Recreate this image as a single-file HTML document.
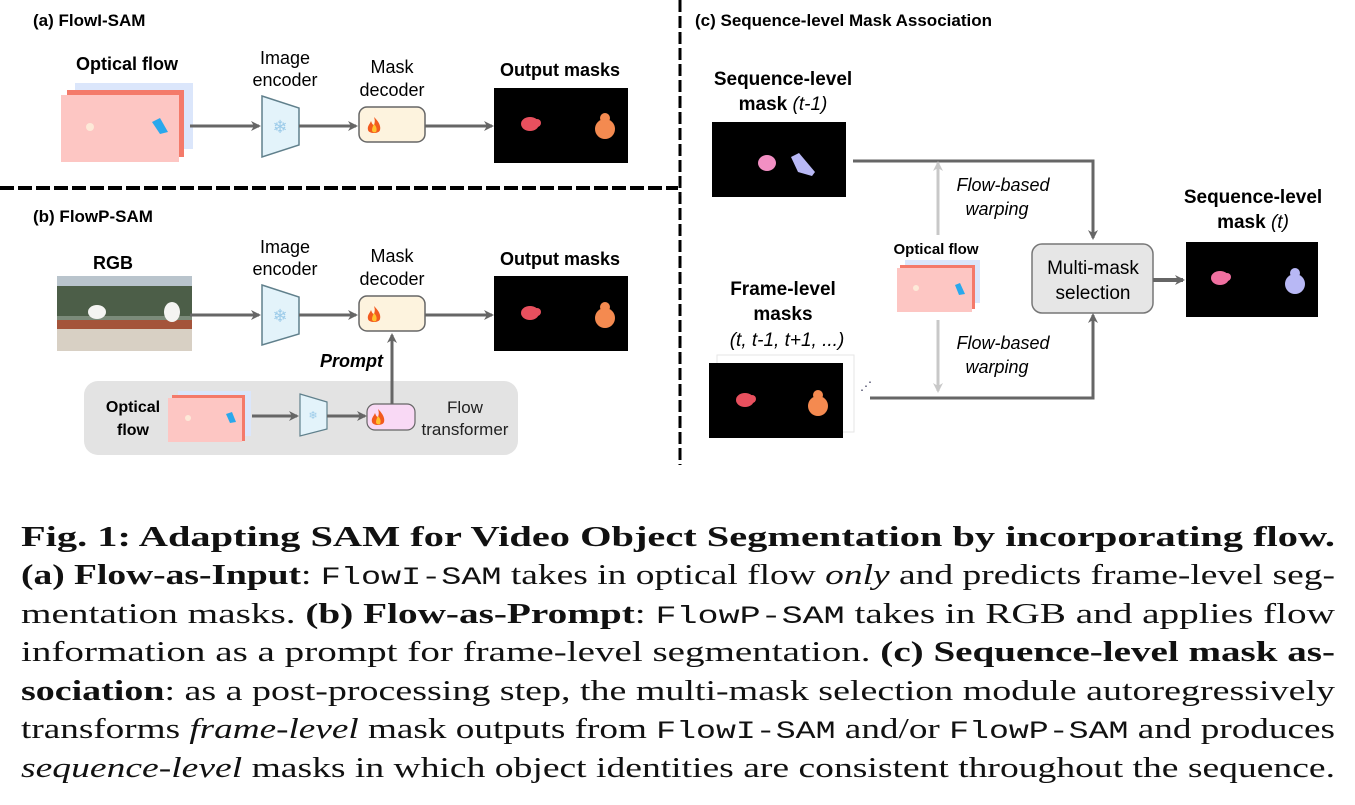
<!DOCTYPE html>
<html><head><meta charset="utf-8"><style>
body{margin:0;background:#fff;width:1355px;height:805px;overflow:hidden;position:relative}
svg{position:absolute;left:0;top:0}
</style></head><body>
<svg width="1355" height="805" viewBox="0 0 1355 805" font-family="Liberation Sans, sans-serif">
<defs>
<marker id="ah" markerWidth="10" markerHeight="10" refX="8" refY="5" orient="auto" markerUnits="userSpaceOnUse"><path d="M0,0 L10,5 L0,10 L3,5 z" fill="#666"/></marker>
<marker id="ahl" markerWidth="10" markerHeight="10" refX="8" refY="5" orient="auto" markerUnits="userSpaceOnUse"><path d="M0,0 L10,5 L0,10 L3,5 z" fill="#c8c8c8"/></marker>
<g id="flame"><path d="M0,-9 C5,-4 7,0 6,4 C5,8 -5,8 -6,4 C-7,0 -4,-2 -3,-5 C-2,-2 -1,-1 0,-1 C1,-4 1,-6 0,-9z" fill="#f25a1e"/><path d="M0,-2 C3,1 3,4 2,6 C0,7 -2,6 -2,4 C-2,2 -1,0 0,-2z" fill="#ffc12e"/></g>
<g id="bird1"><ellipse cx="0" cy="0" rx="9" ry="7"/><circle cx="7" cy="-1" r="4"/></g>
<g id="bird2"><ellipse cx="0" cy="3" rx="10" ry="10"/><circle cx="0" cy="-8" r="5"/></g>
</defs>
<line x1="0" y1="188" x2="678" y2="188" stroke="#000" stroke-width="4" stroke-dasharray="14,4"/>
<line x1="680" y1="0" x2="680" y2="465" stroke="#000" stroke-width="3" stroke-dasharray="12,4"/>
<!-- (a) -->
<text x="33" y="26" font-size="17" font-weight="bold">(a) FlowI-SAM</text>
<text x="127" y="70" font-size="18" font-weight="bold" text-anchor="middle">Optical flow</text>
<rect x="75" y="83" width="118" height="66" fill="#dbe6fb"/>
<rect x="67" y="90" width="117" height="67" fill="#f47a6a"/>
<rect x="61" y="95" width="118" height="67" fill="#fdc6c3"/>
<circle cx="90" cy="127" r="4" fill="#fde9d8"/><path d="M152,122 L160,118 L168,132 L160,134z" fill="#2aa8ec"/>
<line x1="190" y1="126" x2="259" y2="126" stroke="#666" stroke-width="3" marker-end="url(#ah)"/>
<polygon points="262,96 299,108 299,145 262,157" fill="#e3f3fa" stroke="#60808c" stroke-width="1.5"/>
<text x="280" y="133" font-size="18" fill="#9ccbe9" text-anchor="middle" font-family="DejaVu Sans">❄</text>
<text x="285" y="64" font-size="18" text-anchor="middle">Image</text><text x="285" y="86" font-size="18" text-anchor="middle">encoder</text>
<line x1="299" y1="126" x2="356" y2="126" stroke="#666" stroke-width="3" marker-end="url(#ah)"/>
<rect x="359" y="107" width="66" height="35" rx="8" fill="#fdf3de" stroke="#666" stroke-width="1.5"/>
<use href="#flame" x="374" y="126"/>
<text x="392" y="73" font-size="18" text-anchor="middle">Mask</text><text x="392" y="96" font-size="18" text-anchor="middle">decoder</text>
<line x1="425" y1="126" x2="492" y2="126" stroke="#666" stroke-width="3" marker-end="url(#ah)"/>
<text x="560" y="76" font-size="18" font-weight="bold" text-anchor="middle">Output masks</text>
<rect x="494" y="88" width="134" height="75" fill="#000"/>
<use href="#bird1" x="530" y="124" fill="#e8505e"/><use href="#bird2" x="605" y="126" fill="#f48a50"/>
<!-- (b) -->
<text x="33" y="222" font-size="17" font-weight="bold">(b) FlowP-SAM</text>
<text x="113" y="269" font-size="18" font-weight="bold" text-anchor="middle">RGB</text>
<rect x="57" y="276" width="135" height="75" fill="#7b8b7a"/>
<rect x="57" y="276" width="135" height="10" fill="#b9c4cc"/>
<rect x="57" y="286" width="135" height="30" fill="#4c5e48"/>
<rect x="57" y="320" width="135" height="9" fill="#a4543a"/>
<rect x="57" y="329" width="135" height="22" fill="#d8d0c4"/>
<ellipse cx="97" cy="312" rx="9" ry="7" fill="#f4f4f2"/><ellipse cx="172" cy="312" rx="8" ry="10" fill="#f4f4f2"/>
<line x1="190" y1="315" x2="259" y2="315" stroke="#666" stroke-width="3" marker-end="url(#ah)"/>
<polygon points="262,285 299,297 299,334 262,345" fill="#e3f3fa" stroke="#60808c" stroke-width="1.5"/>
<text x="280" y="322" font-size="18" fill="#9ccbe9" text-anchor="middle" font-family="DejaVu Sans">❄</text>
<text x="285" y="253" font-size="18" text-anchor="middle">Image</text><text x="285" y="275" font-size="18" text-anchor="middle">encoder</text>
<line x1="299" y1="315" x2="356" y2="315" stroke="#666" stroke-width="3" marker-end="url(#ah)"/>
<rect x="359" y="296" width="66" height="35" rx="8" fill="#fdf3de" stroke="#666" stroke-width="1.5"/>
<use href="#flame" x="374" y="315"/>
<text x="392" y="262" font-size="18" text-anchor="middle">Mask</text><text x="392" y="285" font-size="18" text-anchor="middle">decoder</text>
<line x1="425" y1="315" x2="492" y2="315" stroke="#666" stroke-width="3" marker-end="url(#ah)"/>
<text x="560" y="265" font-size="18" font-weight="bold" text-anchor="middle">Output masks</text>
<rect x="494" y="276" width="134" height="75" fill="#000"/>
<use href="#bird1" x="530" y="313" fill="#e8505e"/><use href="#bird2" x="605" y="315" fill="#f48a50"/>
<rect x="84" y="381" width="434" height="74" rx="14" fill="#e3e3e3"/>
<line x1="392" y1="404" x2="392" y2="335" stroke="#666" stroke-width="3" marker-end="url(#ah)"/>
<text x="383" y="367" font-size="18" font-weight="bold" font-style="italic" text-anchor="end">Prompt</text>
<text x="133" y="412" font-size="16" font-weight="bold" text-anchor="middle">Optical</text><text x="133" y="435" font-size="16" font-weight="bold" text-anchor="middle">flow</text>
<rect x="178" y="391" width="73" height="45" fill="#dbe6fb"/>
<rect x="172" y="395" width="73" height="46" fill="#f47a6a"/>
<rect x="168" y="398" width="74" height="44" fill="#fdc6c3"/>
<circle cx="188" cy="418" r="3" fill="#fde9d8"/><path d="M226,414 L232,412 L236,422 L230,423z" fill="#2aa8ec"/>
<line x1="252" y1="416" x2="297" y2="416" stroke="#666" stroke-width="3" marker-end="url(#ah)"/>
<polygon points="300,394 327,402 327,429 300,436" fill="#e3f3fa" stroke="#60808c" stroke-width="1.2"/>
<text x="313" y="419" font-size="11" fill="#9ccbe9" text-anchor="middle" font-family="DejaVu Sans">❄</text>
<line x1="327" y1="416" x2="365" y2="416" stroke="#666" stroke-width="3" marker-end="url(#ah)"/>
<rect x="367" y="404" width="48" height="26" rx="8" fill="#f9d9f5" stroke="#666" stroke-width="1.2"/>
<use href="#flame" x="378" y="418"/>
<text x="465" y="413" font-size="17" text-anchor="middle" fill="#222">Flow</text><text x="465" y="435" font-size="17" text-anchor="middle" fill="#222">transformer</text>
<!-- (c) -->
<text x="695" y="26" font-size="17" font-weight="bold">(c) Sequence-level Mask Association</text>
<text x="783" y="85" font-size="19" font-weight="bold" text-anchor="middle">Sequence-level</text>
<text x="783" y="110" font-size="19" text-anchor="middle"><tspan font-weight="bold">mask </tspan><tspan font-style="italic">(t-1)</tspan></text>
<rect x="712" y="122" width="134" height="75" fill="#000"/>
<ellipse cx="767" cy="163" rx="9" ry="8" fill="#f28fc3"/><path d="M791,157 L799,153 L815,172 L812,176 L798,172z" fill="#b8b8f5"/>
<polyline points="853,161 1093,161 1093,238" fill="none" stroke="#666" stroke-width="3" marker-end="url(#ah)"/>
<line x1="938" y1="235" x2="938" y2="163" stroke="#c8c8c8" stroke-width="3" marker-end="url(#ahl)"/>
<text x="1003" y="191" font-size="18" font-style="italic" text-anchor="middle">Flow-based</text>
<text x="997" y="215" font-size="18" font-style="italic" text-anchor="middle">warping</text>
<text x="936" y="254" font-size="15" font-weight="bold" text-anchor="middle">Optical flow</text>
<rect x="905" y="260" width="75" height="43" fill="#dbe6fb"/>
<rect x="900" y="265" width="75" height="44" fill="#f47a6a"/>
<rect x="897" y="268" width="75" height="44" fill="#fdc6c3"/>
<circle cx="916" cy="288" r="3" fill="#fde9d8"/><path d="M955,285 L960,283 L965,294 L959,295z" fill="#2aa8ec"/>
<line x1="938" y1="320" x2="938" y2="391" stroke="#c8c8c8" stroke-width="3" marker-end="url(#ahl)"/>
<text x="1003" y="349" font-size="18" font-style="italic" text-anchor="middle">Flow-based</text>
<text x="997" y="373" font-size="18" font-style="italic" text-anchor="middle">warping</text>
<rect x="1032" y="244" width="121" height="69" rx="10" fill="#e6e6e6" stroke="#777" stroke-width="1.5"/>
<text x="1093" y="274" font-size="19" text-anchor="middle">Multi-mask</text>
<text x="1093" y="299" font-size="19" text-anchor="middle">selection</text>
<line x1="1153" y1="280" x2="1183" y2="280" stroke="#666" stroke-width="4" marker-end="url(#ah)"/>
<text x="1253" y="203" font-size="19" font-weight="bold" text-anchor="middle">Sequence-level</text>
<text x="1253" y="228" font-size="19" text-anchor="middle"><tspan font-weight="bold">mask </tspan><tspan font-style="italic">(t)</tspan></text>
<rect x="1186" y="242" width="132" height="75" fill="#000"/>
<use href="#bird1" x="1220" y="278" fill="#f070a0"/><use href="#bird2" x="1295" y="281" fill="#b8b8f5"/>
<text x="783" y="295" font-size="19" font-weight="bold" text-anchor="middle">Frame-level</text>
<text x="783" y="320" font-size="19" font-weight="bold" text-anchor="middle">masks</text>
<text x="787" y="346" font-size="19" font-style="italic" text-anchor="middle">(t, t-1, t+1, ...)</text>
<rect x="717" y="355" width="137" height="77" fill="#fff" stroke="#e6e6e6"/>
<rect x="709" y="363" width="134" height="75" fill="#000"/>
<use href="#bird1" x="745" y="400" fill="#e8505e"/><use href="#bird2" x="818" y="403" fill="#f48a50"/>
<text x="860" y="390" font-size="12" fill="#335">⋰</text>
<polyline points="870,398 1093,398 1093,315" fill="none" stroke="#666" stroke-width="3" marker-end="url(#ah)"/>
<!-- caption -->
<g font-family="Liberation Serif, serif" font-size="28" fill="#111">
<text x="21" y="546" textLength="1314" lengthAdjust="spacingAndGlyphs" font-weight="bold">Fig. 1: Adapting SAM for Video Object Segmentation by incorporating flow.</text>
<text x="21" y="584" textLength="1314" lengthAdjust="spacingAndGlyphs"><tspan font-weight="bold">(a) Flow-as-Input</tspan>: <tspan font-family="Liberation Mono, monospace" font-size="25">FlowI-SAM</tspan> takes in optical flow <tspan font-style="italic">only</tspan> and predicts frame-level seg-</text>
<text x="21" y="623" textLength="1314" lengthAdjust="spacingAndGlyphs">mentation masks. <tspan font-weight="bold">(b) Flow-as-Prompt</tspan>: <tspan font-family="Liberation Mono, monospace" font-size="25">FlowP-SAM</tspan> takes in RGB and applies flow</text>
<text x="21" y="661" textLength="1314" lengthAdjust="spacingAndGlyphs">information as a prompt for frame-level segmentation. <tspan font-weight="bold">(c) Sequence-level mask as-</tspan></text>
<text x="21" y="700" textLength="1314" lengthAdjust="spacingAndGlyphs"><tspan font-weight="bold">sociation</tspan>: as a post-processing step, the multi-mask selection module autoregressively</text>
<text x="21" y="738" textLength="1314" lengthAdjust="spacingAndGlyphs">transforms <tspan font-style="italic">frame-level</tspan> mask outputs from <tspan font-family="Liberation Mono, monospace" font-size="25">FlowI-SAM</tspan> and/or <tspan font-family="Liberation Mono, monospace" font-size="25">FlowP-SAM</tspan> and produces</text>
<text x="21" y="777" textLength="1314" lengthAdjust="spacingAndGlyphs"><tspan font-style="italic">sequence-level</tspan> masks in which object identities are consistent throughout the sequence.</text>
</g>
</svg>
</body></html>
